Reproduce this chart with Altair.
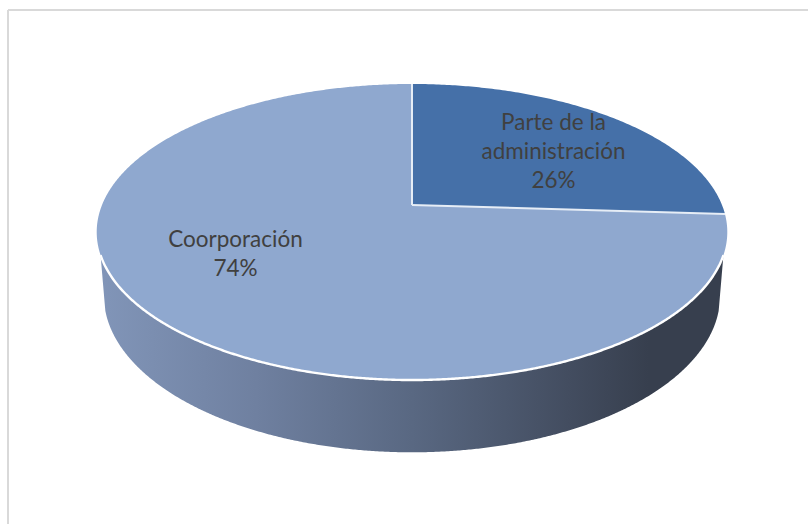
import numpy as np
import pandas as pd
import altair as alt

# Slice shares, clockwise from twelve o'clock
slice_names = ["Parte de la administración", "Coorporación"]
slice_shares = [26, 74]
slice_colors = ["#4570a8", "#8fa8cf"]

# Label lines: the last line of each label is the share itself
label_lines = [["Parte de la", "administración", f"{slice_shares[0]}%"],
               ["Coorporación", f"{slice_shares[1]}%"]]
label_anchor = [(553.5, 123), (235.5, 240)]
label_leading = 29

# Perspective camera for the disc (canvas units)
CX = 412
TILT = 0.1824
TOP_FACE = dict(a=-105.7, b=205.0, r=310.0)
BOTTOM_FACE = dict(a=-103.0, b=266.8, r=303.0)

W, H = 808, 524
x_scale = alt.Scale(domain=[0, W], range=[0, W], nice=False, zero=False)
y_scale = alt.Scale(domain=[0, H], range=[0, H], nice=False, zero=False)


def project(theta, face):
    """Project disc rim angles (clockwise from the far point) onto the canvas."""
    sx, cy = np.sin(theta), np.cos(theta)
    w = 1 + TILT * cy
    return CX + face["r"] * sx / w, (face["a"] * cy + face["b"]) / w


X = alt.X("x:Q", scale=x_scale, axis=None)
Y = alt.Y("y:Q", scale=y_scale, axis=None)

split = 2 * np.pi * slice_shares[0] / sum(slice_shares)
apex = (CX, TOP_FACE["b"])
end_x, end_y = project(split, TOP_FACE)
wide = np.arccos(-TILT)  # rim angle of the rightmost point

# Small slice: rim above, chord to the centre below
t = np.linspace(0, split, 160)
wx, wy = project(t, TOP_FACE)
wedge = pd.DataFrame({"x": wx, "y": wy,
                      "y2": np.interp(wx, [apex[0], end_x], [apex[1], end_y])})

# Large slice: near rim below; far rim, centre and chord above
t = np.linspace(wide, 2 * np.pi - wide, 500)
lx, ly = project(t, TOP_FACE)
order = np.argsort(lx)
lx, ly = lx[order], ly[order]
t_far = np.linspace(2 * np.pi - wide, 2 * np.pi, 200)
ux, uy = project(t_far, TOP_FACE)
t_tip = np.linspace(split, wide, 10)
tx, ty = project(t_tip, TOP_FACE)
up_x = np.concatenate([ux, [apex[0]], tx])
up_y = np.concatenate([uy, [apex[1]], ty])
rest = pd.DataFrame({"x": lx, "y": np.interp(lx, up_x, up_y), "y2": ly})

# Side wall, between the near rim of the two faces
rim_angle = np.radians(109.2)
t = np.linspace(rim_angle, 2 * np.pi - rim_angle, 500)
sx, sy = project(t, TOP_FACE)
order = np.argsort(sx)
sx, sy = sx[order], sy[order]
t = np.linspace(np.radians(106), 2 * np.pi - np.radians(106), 500)
bx, by = project(t, BOTTOM_FACE)
order = np.argsort(bx)
bx, by = bx[order], by[order]
side_x = np.concatenate([[sx[0]], bx, [sx[-1]]])
side_y = np.concatenate([[sy[0]], by, [sy[-1]]])
side = pd.DataFrame({"x": sx, "y": sy, "y2": np.interp(sx, side_x, side_y)})

side_mark = alt.Chart(side).mark_area(
    orient="vertical",
    color=alt.Gradient(
        gradient="linear", x1=0, x2=1, y1=0, y2=0,
        stops=[alt.GradientStop(offset=0, color="#8195b8"),
               alt.GradientStop(offset=0.25, color="#6f80a0"),
               alt.GradientStop(offset=0.5, color="#596882"),
               alt.GradientStop(offset=0.75, color="#434d60"),
               alt.GradientStop(offset=0.88, color="#373f4e"),
               alt.GradientStop(offset=1, color="#373f4e")],
    ),
).encode(x=X, y=Y, y2="y2:Q")

rest_mark = alt.Chart(rest).mark_area(orient="vertical", color=slice_colors[1]).encode(
    x=X, y=Y, y2="y2:Q")
wedge_mark = alt.Chart(wedge).mark_area(orient="vertical", color=slice_colors[0]).encode(
    x=X, y=Y, y2="y2:Q")

# White highlight along the front rim of the top face
rim_mark = alt.Chart(side).mark_line(color="#ffffff", strokeWidth=2.4).encode(x=X, y=Y)

# Slice separators
edges = pd.DataFrame({"x": [apex[0], apex[0]], "y": [apex[1], apex[1]],
                      "x2": [apex[0], end_x], "y2": [float(wy[0]), end_y]})
edge_mark = alt.Chart(edges).mark_rule(color="#e6edf6", strokeWidth=2).encode(
    x=X, y=Y, x2="x2:Q", y2="y2:Q")

# Chart frame: only the top and left sides fall on the canvas
frame = pd.DataFrame({"x": [8, 8], "y": [10, 10], "x2": [W, 8], "y2": [10, H]})
frame_mark = alt.Chart(frame).mark_rule(color="#d9d9d9", strokeWidth=2).encode(
    x=X, y=Y, x2="x2:Q", y2="y2:Q")

rows = []
for lines, (ax, ay) in zip(label_lines, label_anchor):
    for i, line in enumerate(lines):
        rows.append({"x": ax, "y": ay + i * label_leading, "text": line})
text_mark = alt.Chart(pd.DataFrame(rows)).mark_text(
    font="Lato", fontSize=22.5, color="#404040", align="center", baseline="middle"
).encode(x=X, y=Y, text="text:N")

chart = alt.layer(
    frame_mark, side_mark, rest_mark, wedge_mark, rim_mark, edge_mark, text_mark
).properties(
    width=W, height=H, padding=0, background="#ffffff",
    autosize=alt.AutoSizeParams(type="none"),
).configure_view(stroke=None)

chart.save("out.html", embed_options={"renderer": "svg", "actions": False})
